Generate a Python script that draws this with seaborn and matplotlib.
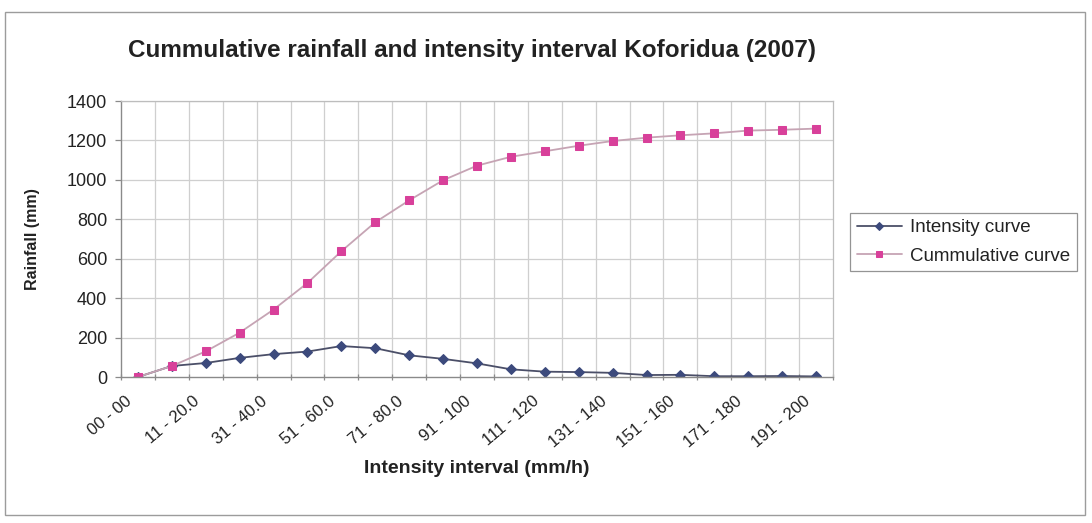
import numpy as np
import pandas as pd
import matplotlib
matplotlib.use("Agg")
import matplotlib.pyplot as plt
import matplotlib.transforms as mtransforms
from matplotlib.patches import Rectangle
import seaborn as sns

# Intensity classes (mm/h)
intervals = [
    "00 - 00", "01 - 10.0", "11 - 20.0", "21 - 30.0", "31 - 40.0", "41 - 50.0",
    "51 - 60.0", "61 - 70.0", "71 - 80.0", "81 - 90.0", "91 - 100", "101 - 110",
    "111 - 120", "121 - 130", "131 - 140", "141 - 150", "151 - 160", "161 - 170",
    "171 - 180", "181 - 190", "191 - 200",
]

# Rainfall per intensity class (mm)
intensity_mm = [0, 56, 71, 97, 116, 129, 157, 146, 110, 92, 69,
                39, 27, 25, 21, 10, 11, 4, 4, 5, 3]

# Cumulative rainfall (mm)
cumulative_mm = [0, 56, 130, 225, 342, 477, 638, 785, 896, 998, 1072,
                 1117, 1145, 1173, 1197, 1214, 1226, 1236, 1250, 1254, 1260]

y_ticks = [0, 200, 400, 600, 800, 1000, 1200, 1400]

sns.set_theme(style="white")
plt.rcParams["font.family"] = ["Liberation Sans", "DejaVu Sans"]

df = pd.DataFrame({
    "interval": pd.Categorical(intervals, categories=intervals, ordered=True),
    "pos": np.arange(len(intervals)),
    "intensity": intensity_mm,
    "cumulative": cumulative_mm,
})

W, H = 1092, 523
fig = plt.figure(figsize=(W / 100, H / 100), dpi=100)
fig.patch.set_facecolor("white")

# outer chart frame
fig.add_artist(Rectangle((5 / W, 1 - 515 / H), 1080 / W, 503 / H,
                         transform=fig.transFigure, fill=False,
                         edgecolor="#9c9c9c", linewidth=1.0))

ax = fig.add_axes([121 / W, 1 - 377 / H, 712 / W, 276 / H])
ax.set_facecolor("white")

blue_line, blue_mark = "#4b4f68", "#3c4a7c"
pink_line, pink_mark = "#c6a4b4", "#d8409a"

sns.lineplot(data=df, x="pos", y="intensity", ax=ax, color=blue_line,
             linewidth=1.3, marker="D", markersize=5.6,
             markerfacecolor=blue_mark, markeredgecolor=blue_mark,
             label="Intensity curve")
sns.lineplot(data=df, x="pos", y="cumulative", ax=ax, color=pink_line,
             linewidth=1.3, marker="s", markersize=5.4,
             markerfacecolor=pink_mark, markeredgecolor=pink_mark,
             label="Cummulative curve")

n = len(intervals)
ax.set_xlim(-0.5, n - 0.5)
ax.set_ylim(0, 1400)
ax.set_yticks(y_ticks)
ax.set_yticklabels([str(v) for v in y_ticks])

# category labels at every other class, gridlines between classes
ax.set_xticks(np.arange(n))
ax.set_xticklabels([lab if i % 2 == 0 else "" for i, lab in enumerate(intervals)],
                   rotation=40, ha="right", va="center", rotation_mode="anchor")
ax.set_xticks(np.arange(n + 1) - 0.5, minor=True)

grid_c = "#cfcfcf"
ax.grid(False)
for yv in y_ticks[1:]:
    ax.axhline(yv, color=grid_c, linewidth=0.9, zorder=0)
for xv in np.arange(1, n) - 0.5:
    ax.axvline(xv, color=grid_c, linewidth=0.9, zorder=0)

for side in ["top", "right"]:
    ax.spines[side].set_color("#bdbdbd")
    ax.spines[side].set_linewidth(0.9)
for side in ["left", "bottom"]:
    ax.spines[side].set_color("#8a8a8a")
    ax.spines[side].set_linewidth(1.0)

ax.tick_params(axis="x", which="major", length=0, pad=16,
               labelsize=12, labelcolor="#222222")
ax.tick_params(axis="x", which="minor", length=5, direction="inout",
               color="#8a8a8a", width=0.9, bottom=True)
ax.tick_params(axis="y", which="major", length=4, direction="out",
               color="#8a8a8a", width=0.9, left=True, pad=6,
               labelsize=13, labelcolor="#222222")

shift = mtransforms.ScaledTranslation(-8 / 100, 0, fig.dpi_scale_trans)
for lbl in ax.get_xticklabels():
    lbl.set_transform(lbl.get_transform() + shift)

ax.set_xlabel("Intensity interval (mm/h)", fontsize=14, fontweight="bold",
              color="#222222")
ax.xaxis.set_label_coords(0.5, (377 - 460) / 276)
ax.set_ylabel("Rainfall (mm)", fontsize=11.5, fontweight="bold", color="#222222")
ax.yaxis.set_label_coords((40 - 121) / 712, 0.5)

fig.text(472 / W, 1 - 51 / H,
         "Cummulative rainfall and intensity interval Koforidua (2007)",
         ha="center", va="center", fontsize=17.5, fontweight="bold",
         color="#222222")

leg = ax.legend(loc="center left", bbox_to_anchor=(850 / W, 1 - 242 / H),
                bbox_transform=fig.transFigure, frameon=True, fancybox=False,
                fontsize=13.5, handlelength=2.4, borderpad=0.35,
                labelspacing=0.6, handletextpad=0.45, borderaxespad=0,
                markerscale=0.7)
leg.get_frame().set_edgecolor("#7a7a7a")
leg.get_frame().set_linewidth(0.9)
for t in leg.get_texts():
    t.set_color("#222222")

fig.savefig("out.png", dpi=100, facecolor="white")
